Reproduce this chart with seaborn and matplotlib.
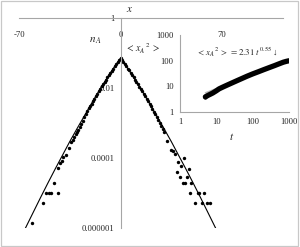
import numpy as np
import pandas as pd
import matplotlib
matplotlib.use("Agg")
import matplotlib.pyplot as plt
from matplotlib.patches import Rectangle
import seaborn as sns

# ---------------- data ----------------
# fitted curve n_A(x)
curve_x = [-66, -60, -55, -50, -45, -40, -35, -30, -25, -20, -15, -10, -5, 0,
           5, 10, 15, 20, 25, 30, 35, 40, 45, 50, 55, 60, 66]
curve_n = [9.1e-7, 2.9e-6, 7.6e-6, 1.95e-5, 4.9e-5, 1.2e-4, 2.95e-4, 6.9e-4, 1.58e-3,
           3.63e-3, 8.13e-3, 1.74e-2, 3.63e-2, 7.2e-2,
           3.63e-2, 1.74e-2, 8.13e-3, 3.63e-3, 1.58e-3, 6.9e-4, 2.95e-4, 1.2e-4,
           4.9e-5, 1.95e-5, 7.6e-6, 2.9e-6, 9.1e-7]

# simulated points n_A(x): tails
tail_x = [-60.8, -53.2, -51.5, -49.2, -47.6, -43.0, -45.7, -43.4, -41.8, -40.4, -40.0,
          -37.6, -35.3,
          31.9, 34.9, 36.5, 37.6, 43.9, 39.5, 41.8, 46.9, 38.8, 41.1, 45.7, 43.0, 44.6,
          48.7, 48.0, 53.4, 54.3, 57.3, 51.1, 56.1, 59.6, 61.9]
tail_n = [1.4e-6, 5.1e-6, 9.8e-6, 1.02e-5, 1.02e-5, 1.02e-5, 1.95e-5, 5.1e-5, 7.1e-5,
          8.3e-5, 1.1e-4, 1.23e-4, 1.9e-4,
          3.1e-4, 1.7e-4, 1.62e-4, 1.29e-4, 9.8e-5, 7.8e-5, 5.9e-5, 4.8e-5, 3.9e-5,
          2.95e-5, 2.95e-5, 1.95e-5, 1.95e-5, 1.95e-5, 9.8e-6, 9.8e-6, 9.8e-6, 9.8e-6,
          5.1e-6, 5.1e-6, 5.1e-6, 5.1e-6]
# simulated points n_A(x): core
core_x = [-34, -33, -32, -31, -30, -29, -28, -27, -26, -25, -24, -23, -22, -21, -20,
          -19, -18, -17, -16, -15, -14, -13, -12, -11, -10, -9, -8, -7, -6, -5, -4,
          -3, -2, -1, 0, 1, 2, 3, 4, 5, 6, 7, 8, 9, 10, 11, 12, 13, 14, 15, 16, 17,
          18, 19, 20, 21, 22, 23, 24, 25, 26, 27, 28, 29, 30]
core_n = [2.8e-4, 3.3e-4, 4.0e-4, 4.7e-4, 5.6e-4, 6.5e-4, 7.9e-4, 9.6e-4, 1.17e-3,
          1.5e-3, 1.85e-3, 2.2e-3, 2.6e-3, 3.1e-3, 3.6e-3, 4.3e-3, 5.0e-3, 5.9e-3,
          6.9e-3, 8.2e-3, 9.6e-3, 1.12e-2, 1.3e-2, 1.5e-2, 1.72e-2, 2.0e-2, 2.3e-2,
          2.7e-2, 3.15e-2, 3.6e-2, 4.2e-2, 4.8e-2, 5.5e-2, 6.4e-2, 7.2e-2, 6.5e-2,
          5.4e-2, 4.8e-2, 4.2e-2, 3.6e-2, 3.2e-2, 2.7e-2, 2.35e-2, 2.0e-2, 1.7e-2,
          1.5e-2, 1.28e-2, 1.1e-2, 9.4e-3, 8.1e-3, 6.9e-3, 5.9e-3, 5.0e-3, 4.2e-3,
          3.6e-3, 3.0e-3, 2.55e-3, 2.1e-3, 1.8e-3, 1.45e-3, 1.2e-3, 9.8e-4, 8.3e-4,
          6.6e-4, 5.6e-4]

# inset: mean square displacement vs time
msd_t = [5, 6, 7, 8, 10, 12, 15, 20, 30, 40, 50, 70, 100, 150, 200, 300, 400,
         500, 700, 850, 1000]
msd_v = [3.9, 4.5, 5.0, 5.5, 6.7, 8.0, 9.3, 11.2, 14.5, 17.4, 20.0, 24.7, 30.4,
         37.8, 44.3, 55.0, 64.0, 72.5, 87.0, 94.0, 99.0]
fit_t = [5, 1000]
fit_v = [5.6, 103.0]

main_xticks = [-70, 0, 70]
main_yticks = [1, 1e-2, 1e-4, 1e-6]
main_yticklabels = ["1", "0.01", "0.0001", "0.000001"]
inset_ticks = [1, 10, 100, 1000]
inset_ticklabels = ["1", "10", "100", "1000"]

# ---------------- style ----------------
sns.set_style("white")
plt.rcParams["font.family"] = ["Liberation Serif", "DejaVu Serif"]
plt.rcParams["mathtext.fontset"] = "stix"
FS = 6.2
GRAY = "#a6a6a6"

fig = plt.figure(figsize=(3.0, 2.47), dpi=100)
fig.patches.append(Rectangle((0.004, 0.006), 0.99, 0.988, transform=fig.transFigure,
                             fill=False, edgecolor="#c8c8c8", linewidth=0.9))

# ---------------- main axes ----------------
ax = fig.add_axes([0.0633, 0.077, 0.88, 0.85])
ax.set_yscale("log")

sns.lineplot(x=curve_x, y=curve_n, ax=ax, color="black", linewidth=0.8,
             sort=False, estimator=None)
sns.scatterplot(x=core_x + tail_x, y=core_n + tail_n, ax=ax, color="black", s=6,
                linewidth=0)
ax.set_xlim(-70, 112)
ax.set_ylim(1e-6, 1)

for s in ["top", "right"]:
    ax.spines[s].set_visible(False)
ax.spines["bottom"].set_position(("data", 1))
ax.spines["left"].set_position(("data", 0))
for s in ["bottom", "left"]:
    ax.spines[s].set_color(GRAY)
    ax.spines[s].set_linewidth(0.8)

ax.set_xticks(main_xticks)
ax.set_xticklabels([str(v) for v in main_xticks], fontsize=FS)
ax.set_yticks(main_yticks)
ax.set_yticklabels(main_yticklabels, fontsize=FS)
ax.yaxis.set_minor_locator(matplotlib.ticker.NullLocator())
ax.tick_params(axis="x", length=0, pad=9)
ax.tick_params(axis="y", length=3, width=0.7, color=GRAY, pad=1.5, which="major")
ax.set_xlabel("")
ax.set_ylabel("")

fig.text(130 / 300, 1 - 10 / 247, r"$x$", fontsize=8, ha="center", va="center")
fig.text(95 / 300, 1 - 41 / 247, r"$n_{\,A}$", fontsize=8, ha="center", va="center")
fig.text(143 / 300, 1 - 49 / 247, r"$<\,x_{A}{}^{\,2}\,>$", fontsize=7,
         ha="center", va="center")

# ---------------- inset ----------------
ins = fig.add_axes([0.6, 0.5466, 0.363, 0.3117])
ins.set_xscale("log")
ins.set_yscale("log")
ins.patch.set_alpha(0)

sns.lineplot(x=fit_t, y=fit_v, ax=ins, color="#bbbbbb", linewidth=1.0,
             sort=False, estimator=None)
sns.lineplot(x=msd_t, y=msd_v, ax=ins, color="black", linewidth=3.8,
             sort=False, estimator=None)
sns.scatterplot(x=msd_t[:1], y=msd_v[:1], ax=ins, color="black", s=9, linewidth=0)
ins.set_xlim(1, 1000)
ins.set_ylim(1, 1000)

for s in ["top", "right"]:
    ins.spines[s].set_visible(False)
for s in ["bottom", "left"]:
    ins.spines[s].set_color(GRAY)
    ins.spines[s].set_linewidth(0.8)
ins.set_xticks(inset_ticks)
ins.set_xticklabels(inset_ticklabels, fontsize=FS)
ins.set_yticks(inset_ticks)
ins.set_yticklabels(inset_ticklabels, fontsize=FS)
ins.xaxis.set_minor_locator(matplotlib.ticker.NullLocator())
ins.yaxis.set_minor_locator(matplotlib.ticker.NullLocator())
ins.tick_params(length=2.5, width=0.7, color=GRAY, pad=2)
ins.set_xlabel("")
ins.set_ylabel("")

fig.text(232 / 300, 1 - 136 / 247, r"$t$", fontsize=8, ha="center", va="center")
fig.text(237 / 300, 1 - 52 / 247,
         r"$<\,x_{A}{}^{\,2}\,>\,=2.31\,t^{\,0.55}$" + " \u2193",
         fontsize=6.5, ha="center", va="center")

fig.savefig("out.png", dpi=100)
